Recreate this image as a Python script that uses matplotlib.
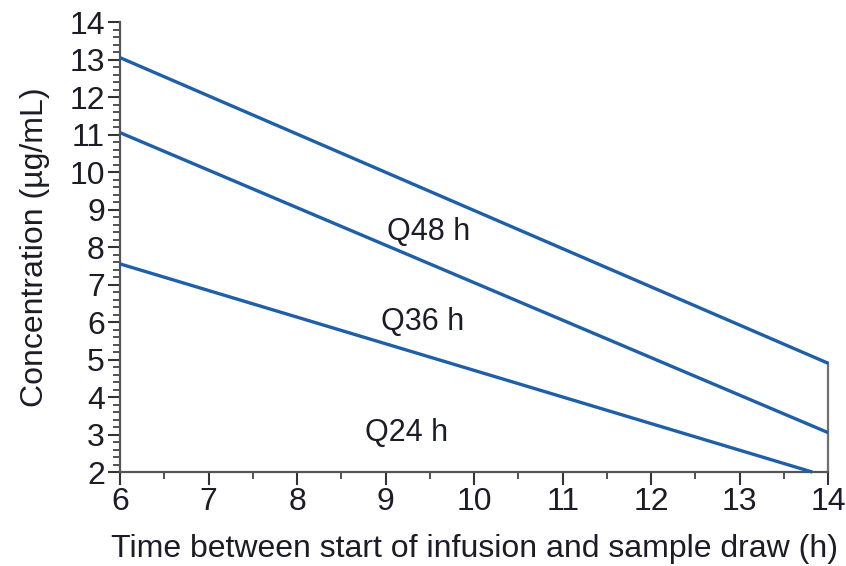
import matplotlib
matplotlib.use("Agg")
import matplotlib.pyplot as plt
from matplotlib.ticker import MultipleLocator

plt.rcParams['font.family'] = ['Liberation Sans', 'DejaVu Sans']

time_q48 = [6, 14]
conc_q48 = [13.05, 4.9]
time_q36 = [6, 14]
conc_q36 = [11.05, 3.05]
time_q24 = [6, 13.82]
conc_q24 = [7.55, 2.0]

labels = ["Q48 h", "Q36 h", "Q24 h"]
label_x = [9.48, 9.42, 9.24]
label_y = [8.4, 6.0, 3.05]

fig = plt.figure(figsize=(8.46, 5.66), dpi=100)
ax = fig.add_axes([0.142, 0.166, 0.837, 0.795])

blue = "#1f5fa8"
for t, c in [(time_q48, conc_q48), (time_q36, conc_q36), (time_q24, conc_q24)]:
    ax.plot(t, c, color=blue, lw=2.4, solid_capstyle='butt', clip_on=False, zorder=3)

ax.plot([14, 14], [2, conc_q48[1]], color="#707070", lw=1.6, clip_on=False, zorder=2)

txt = '#1c1c28'
for l, x, y in zip(labels, label_x, label_y):
    ax.text(x, y, l, fontsize=22, ha='center', va='center', color=txt)

ax.set_xlim(6, 14)
ax.set_ylim(2, 14)
for s in ['top', 'right']:
    ax.spines[s].set_visible(False)
for s in ['left', 'bottom']:
    ax.spines[s].set_color('#555555')
    ax.spines[s].set_linewidth(1.6)

ax.xaxis.set_major_locator(MultipleLocator(1))
ax.xaxis.set_minor_locator(MultipleLocator(0.5))
ax.yaxis.set_major_locator(MultipleLocator(1))
ax.yaxis.set_minor_locator(MultipleLocator(0.2))
ax.tick_params(which='major', length=9, width=1.5, color='#333333', labelsize=23, labelcolor=txt, pad=2)
ax.tick_params(which='minor', length=5, width=1.2, color='#333333')

ax.set_xlabel("Time between start of infusion and sample draw (h)", fontsize=23, color=txt, labelpad=12)
ax.set_ylabel("Concentration (µg/mL)", fontsize=23, color=txt, labelpad=14)

fig.savefig("out.png", dpi=100)
